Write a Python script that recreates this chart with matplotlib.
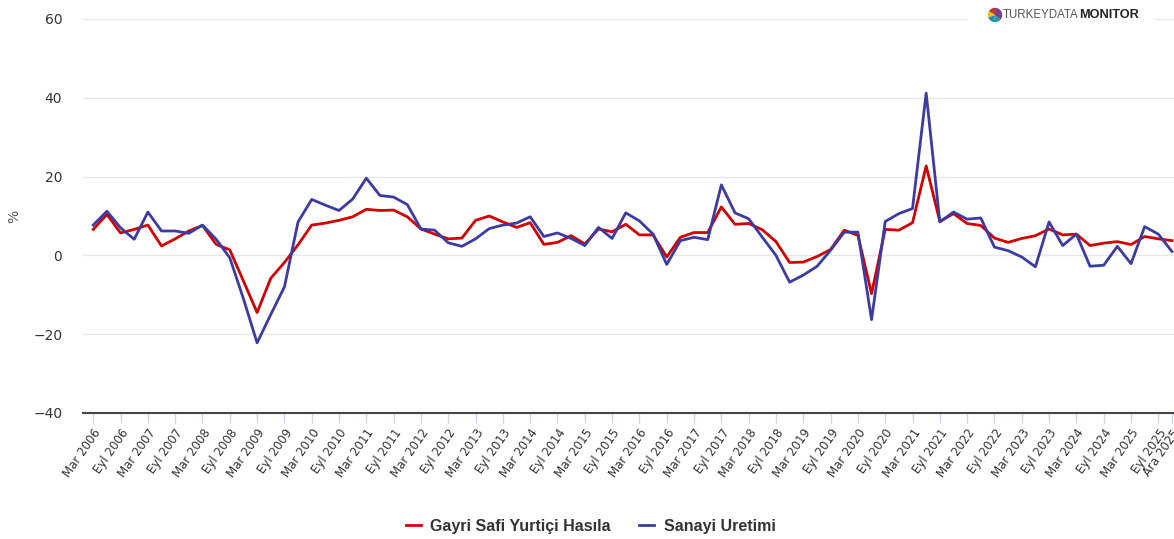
import numpy as np
import matplotlib
matplotlib.use("Agg")
import matplotlib.pyplot as plt
from matplotlib.patches import Wedge, Rectangle

# quarterly labels, Mar 2006 .. Ara 2025
months = ["Mar", "Haz", "Eyl", "Ara"]
years = range(2006, 2026)
quarters = [m + " " + str(y) for y in years for m in months]

# year-on-year change, %
gdp = [6.6, 10.4, 5.7, 6.6, 7.7, 2.4, 4.2, 6.2, 7.6, 2.8,
       1.4, -6.5, -14.5, -5.8, -1.8, 2.7, 7.7, 8.2, 8.9, 9.8,
       11.7, 11.4, 11.5, 9.8, 6.7, 5.4, 4.2, 4.4, 8.9, 10.0,
       8.5, 7.1, 8.3, 2.8, 3.3, 5.0, 2.9, 6.7, 6.0, 7.9,
       5.2, 5.2, -0.4, 4.6, 5.8, 5.8, 12.3, 7.9, 8.1, 6.5,
       3.5, -1.8, -1.7, -0.3, 1.5, 6.4, 5.1, -9.7, 6.6, 6.4,
       8.3, 22.7, 8.6, 10.6, 8.1, 7.6, 4.4, 3.3, 4.3, 5.0,
       6.7, 5.2, 5.4, 2.5, 3.1, 3.5, 2.75, 4.8, 4.2, 3.75]
industry = [7.7, 11.2, 7.0, 4.1, 11.0, 6.2, 6.2, 5.6, 7.7, 4.1,
            -0.6, -11.0, -22.2, -15.0, -8.0, 8.5, 14.2, 12.75, 11.4, 14.3,
            19.6, 15.2, 14.8, 12.9, 6.7, 6.4, 3.2, 2.3, 4.2, 6.8,
            7.7, 8.2, 9.8, 4.8, 5.7, 4.3, 2.5, 7.1, 4.3, 10.8,
            8.75, 5.4, -2.3, 3.75, 4.6, 4.0, 17.9, 10.8, 9.3, 4.6,
            0.0, -6.8, -5.0, -2.8, 1.3, 5.9, 5.9, -16.3, 8.6, 10.6,
            11.9, 41.2, 8.5, 11.0, 9.2, 9.5, 2.1, 1.2, -0.4, -2.9,
            8.5, 2.5, 5.4, -2.75, -2.5, 2.3, -2.1, 7.3, 5.4, 1.0]

W, H = 1174, 539
fig = plt.figure(figsize=(W / 100, H / 100), dpi=100)
ax = fig.add_axes([83 / W, 1 - 413 / H, (W - 83) / W, (413 - 19) / H])

x = np.arange(len(quarters))
ax.plot(x, gdp, color="#d40000", lw=2.0, label="Gayri Safi Yurtiçi Hasıla", zorder=3)
ax.plot(x, industry, color="#3b3ba3", lw=2.0, label="Sanayi Uretimi", zorder=4)

ax.set_xlim(-0.75, 79.15)
ax.set_ylim(-40, 60)
ax.set_yticks([-40, -20, 0, 20, 40, 60])
ax.yaxis.grid(True, color="#e6e6e6", lw=1)
ax.set_axisbelow(True)
for s in ["left", "right", "top"]:
    ax.spines[s].set_visible(False)
ax.spines["bottom"].set_color("#444444")
ax.spines["bottom"].set_linewidth(1.5)
ax.spines["bottom"].set_zorder(5)

ticks = list(range(0, len(quarters), 2)) + [len(quarters) - 1]
ax.set_xticks(ticks)
ax.set_xticklabels([quarters[i] for i in ticks], rotation=55, ha="right",
                   rotation_mode="anchor", fontsize=8.5, color="#333333")
ax.tick_params(axis="x", length=7, width=1, color="#ccd6eb", pad=3)
ax.tick_params(axis="y", length=0, pad=15, labelsize=10, labelcolor="#333333")
fig.text(14 / W, 1 - 216 / H, "%", rotation=90, ha="center", va="center",
         fontsize=10, color="#555555")

leg = fig.legend(loc="center", bbox_to_anchor=(0.503, 1 - 526 / H), ncol=2,
                 frameon=False, handlelength=0.95, handletextpad=0.6,
                 columnspacing=1.75, prop={"family": "Liberation Sans", "weight": "bold", "size": 11.5})
for t in leg.get_texts():
    t.set_color("#333333")

# logo box over the top gridline
fig.patches.append(Rectangle((968 / W, 1 - 27 / H), (1156 - 968) / W, 18 / H,
                             transform=fig.transFigure, facecolor="white",
                             edgecolor="none", zorder=5))
cx, cy, r = 995 / 100, (H - 15) / 100, 0.072
cols = ["#c0392b", "#f1c40f", "#2e86c1", "#17a589", "#7d3c98"]
angs = [90, 150, 200, 260, 320, 450]
for i, c in enumerate(cols):
    fig.patches.append(Wedge((cx, cy), r, angs[i], angs[i + 1], facecolor=c,
                             transform=fig.dpi_scale_trans, zorder=6))
fig.text(1078 / W, 1 - 15 / H, "TURKEYDATA", ha="right", va="center",
         fontsize=8.3, color="#555555", family="Liberation Sans", zorder=7)
fig.text(1079 / W, 1 - 15 / H, "MONITOR", ha="left", va="center",
         fontsize=9.2, color="#222222", weight="bold", family="Liberation Sans", zorder=7)

fig.savefig("out.png", dpi=100)
